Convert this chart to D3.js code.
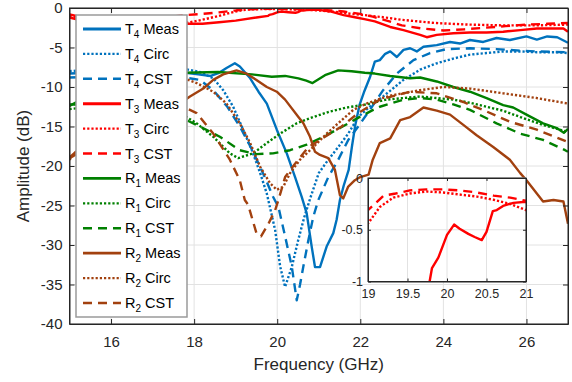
<!DOCTYPE html>
<html lang="en">
<head>
<meta charset="UTF-8">
<title>Amplitude vs Frequency</title>
<script src="https://d3js.org/d3.v7.min.js"></script>
<style>
  body { margin: 0; background: #fff; }
  svg { font-family: Arial, "Liberation Sans", sans-serif; }
  .tick text { fill: #262626; }
  .axis path, .axis line { stroke: #262626; }
</style>
</head>
<body>
<svg id="chart" width="572" height="382"></svg>
<script>
// ---- data (frequency GHz, amplitude dB) ----
const t4Meas = [[15,-8.3],[15.5,-8.2],[16,-8.0],[16.5,-8.1],[17,-8.0],[17.5,-8.1],[17.8,-8.2],[18.1,-8.4],[18.4,-8.6],[18.6,-8.2],[18.78,-7.6],[18.98,-7.0],[19.1,-7.4],[19.35,-8.9],[19.55,-10.6],[19.75,-12.1],[19.99,-15.4],[20.23,-18.4],[20.43,-21.4],[20.59,-23.9],[20.71,-26],[20.83,-30.2],[20.91,-32.8],[21.03,-32.8],[21.11,-31.5],[21.19,-30.2],[21.35,-28.5],[21.43,-26.8],[21.51,-24.3],[21.6,-22.5],[21.72,-20.5],[21.8,-17.5],[21.88,-14.8],[21.98,-12.3],[22.1,-10.5],[22.23,-8.8],[22.35,-6.8],[22.47,-6.6],[22.6,-5.8],[22.72,-5.5],[22.88,-6.2],[23.04,-5.3],[23.2,-5.1],[23.36,-5.5],[23.52,-4.9],[23.84,-4.7],[24.16,-4.3],[24.4,-4.5],[24.64,-4.05],[24.96,-4.3],[25.28,-3.8],[25.6,-4.05],[26.0,-3.6],[26.25,-4.0],[26.5,-3.6],[26.74,-3.7],[27,-4.4]];
const t4Circ = [[15,-8.0],[15.5,-7.8],[16,-7.7],[16.5,-7.6],[17,-7.5],[17.66,-7.6],[18.14,-8.1],[18.46,-8.9],[18.7,-10.4],[18.94,-12.5],[19.18,-15.4],[19.39,-18],[19.59,-20.9],[19.75,-23.5],[19.95,-28.1],[20.07,-32.7],[20.19,-35.3],[20.35,-32.8],[20.5,-29.5],[20.65,-26.5],[20.8,-24.0],[21.0,-20.9],[21.23,-19.2],[21.47,-17.6],[21.71,-15.9],[21.95,-13.8],[22.2,-12.6],[22.55,-11.2],[23.04,-9.1],[23.44,-7.8],[23.84,-7.0],[24.24,-6.4],[24.64,-5.9],[25.04,-5.7],[25.44,-5.5],[25.85,-5.5],[26.25,-5.6],[26.73,-5.6],[27,-5.7]];
const t4Cst = [[15,-8.8],[15.5,-8.7],[16,-8.6],[16.5,-8.5],[17,-8.5],[17.66,-8.7],[18.14,-9.1],[18.46,-10.4],[18.8,-12.5],[19.1,-15],[19.4,-18],[19.7,-21.4],[19.9,-23.9],[20.03,-25.2],[20.19,-28.9],[20.35,-32.7],[20.47,-37],[20.55,-35],[20.63,-32.7],[20.75,-29.4],[20.87,-26.4],[20.99,-24.3],[21.23,-21.4],[21.47,-19.2],[21.71,-16.7],[21.95,-15],[22.23,-12.9],[22.55,-10.4],[22.88,-8.3],[23.28,-6.6],[23.68,-5.7],[24.08,-5.2],[24.64,-5.1],[25.28,-5.2],[25.85,-5.4],[26.25,-5.5],[27,-5.6]];
const t3Meas = [[15,-1.2],[15.3,-1.6],[15.7,-1.9],[16.2,-2.0],[16.8,-2.1],[17.3,-2.0],[17.78,-2.0],[18.2,-2.0],[18.6,-1.8],[19.0,-1.6],[19.5,-1.2],[19.78,-1.0],[19.81,-0.87],[19.89,-0.77],[20.0,-0.55],[20.09,-0.45],[20.16,-0.49],[20.27,-0.54],[20.35,-0.57],[20.44,-0.6],[20.5,-0.52],[20.58,-0.32],[20.63,-0.31],[20.71,-0.27],[20.84,-0.24],[21.0,-0.23],[21.3,-0.45],[21.6,-0.9],[21.9,-1.2],[22.1,-1.4],[22.35,-1.7],[22.72,-2.4],[23.04,-2.8],[23.44,-3.4],[23.6,-3.7],[23.84,-3.4],[24.24,-3.2],[24.64,-3.1],[25.04,-3.1],[25.44,-3.0],[25.85,-2.8],[26.25,-2.6],[26.65,-2.6],[26.89,-2.6],[27,-3.0]];
const t3Circ = [[15,-1.0],[15.5,-1.5],[16,-1.9],[16.5,-2.2],[17,-2.3],[17.4,-2.1],[17.78,-1.9],[18.1,-1.6],[18.6,-1.0],[18.8,-0.7],[19.0,-0.44],[19.15,-0.28],[19.32,-0.19],[19.53,-0.15],[19.74,-0.13],[19.95,-0.14],[20.16,-0.16],[20.38,-0.18],[20.59,-0.21],[20.8,-0.25],[21.0,-0.31],[21.4,-0.5],[21.8,-0.75],[22.2,-0.95],[22.6,-1.2],[23.0,-1.5],[23.4,-1.7],[23.8,-1.9],[24.2,-2.0],[24.6,-2.1],[25.0,-2.15],[25.4,-2.2],[25.8,-2.2],[26.2,-2.2],[26.6,-2.15],[27,-2.1]];
const t3Cst = [[15,-0.8],[15.3,-1.2],[15.8,-1.5],[16.3,-1.6],[16.8,-1.5],[17.3,-1.2],[17.78,-0.9],[18.2,-0.75],[18.6,-0.55],[18.8,-0.42],[19.0,-0.31],[19.2,-0.17],[19.35,-0.15],[19.53,-0.12],[19.74,-0.11],[19.95,-0.11],[20.16,-0.12],[20.38,-0.14],[20.59,-0.17],[20.8,-0.19],[21.0,-0.22],[21.3,-0.3],[21.6,-0.45],[22.0,-0.75],[22.3,-1.1],[22.7,-1.7],[23.0,-2.2],[23.5,-2.6],[24.0,-2.85],[24.5,-2.7],[25.0,-2.5],[25.5,-2.3],[26.0,-2.1],[26.5,-2.0],[27,-1.9]];
const r1Meas = [[15,-12.4],[15.5,-11],[16,-9.8],[16.5,-8.9],[17,-8.5],[17.4,-8.3],[17.78,-8.2],[18.58,-8.1],[19.39,-8.4],[19.87,-8.7],[20.19,-8.6],[20.51,-8.9],[20.7,-9.2],[20.85,-9.5],[21.15,-8.5],[21.47,-7.9],[21.79,-8.0],[22.11,-8.2],[22.35,-8.3],[22.72,-8.6],[23.2,-8.9],[23.44,-8.8],[23.84,-9.3],[24.24,-10.0],[24.64,-10.6],[25.04,-11.4],[25.44,-12.3],[25.68,-12.6],[26.0,-13.5],[26.4,-14.6],[26.73,-15.2],[26.9,-15.8],[27,-15.3]];
const r1Circ = [[15,-12.8],[15.5,-12.5],[16,-12.4],[16.5,-12.5],[17,-12.7],[17.66,-13.3],[18.06,-14.6],[18.46,-16.3],[18.86,-18.4],[19.06,-19.0],[19.42,-18.4],[19.75,-17.1],[20.07,-15.9],[20.47,-14.6],[20.87,-13.8],[21.27,-13.1],[21.67,-12.6],[22.15,-12.2],[22.63,-11.6],[23.04,-11.4],[23.44,-11.2],[23.84,-11.4],[24.24,-11.6],[24.64,-12.0],[25.04,-12.5],[25.44,-13.0],[25.85,-13.8],[26.4,-14.8],[27,-15.7]];
const r1Cst = [[15,-12.2],[15.5,-12.3],[16,-12.5],[16.5,-12.8],[17,-13.2],[17.66,-13.8],[18.14,-15.0],[18.62,-16.3],[19.1,-18.0],[19.5,-18.5],[19.9,-18.4],[20.31,-18.0],[20.71,-17.3],[21.11,-16.3],[21.51,-15.2],[21.91,-14.0],[22.31,-12.9],[22.47,-12.5],[23.04,-11.6],[23.44,-11.4],[23.84,-11.6],[24.24,-12.2],[24.64,-12.9],[25.28,-14.6],[25.85,-15.9],[26.4,-16.7],[26.93,-18.0],[27,-18.2]];
const r2Meas = [[15,-18.9],[15.2,-18.0],[15.6,-16.5],[16,-15.5],[16.5,-14.5],[17,-13.5],[17.4,-12.8],[17.66,-12.1],[17.9,-11.2],[18.22,-10.2],[18.46,-9.1],[18.7,-8.4],[19.02,-7.9],[19.26,-8.3],[19.5,-9.1],[19.75,-10.0],[19.99,-10.6],[20.19,-11.6],[20.51,-13.8],[20.63,-14.6],[20.79,-16.3],[20.91,-18.2],[21.03,-18.6],[21.23,-19.0],[21.39,-20.5],[21.51,-23.7],[21.59,-24.1],[21.71,-22.6],[21.87,-21.8],[22.0,-21.4],[22.2,-21.1],[22.3,-19.2],[22.47,-17.1],[22.72,-16.5],[22.96,-14.2],[23.2,-13.8],[23.52,-12.6],[23.84,-13.0],[24.16,-13.5],[24.48,-14.8],[24.8,-16.1],[25.2,-17.6],[25.6,-19.2],[25.85,-20.9],[26.0,-21.8],[26.4,-24.5],[26.65,-24.3],[26.89,-24.5],[27,-27.3]];
const r2Circ = [[15,-19.2],[15.5,-16],[16,-13],[16.5,-10.8],[17,-9.3],[17.4,-8.8],[17.66,-8.7],[18.06,-9.5],[18.46,-10.6],[18.78,-12.1],[19.1,-14.6],[19.35,-17.1],[19.59,-20.1],[19.83,-22.2],[19.99,-23.0],[20.15,-22.6],[20.31,-20.9],[20.55,-19.2],[20.87,-17.6],[21.19,-15.9],[21.51,-14.4],[21.83,-12.9],[22.15,-12.1],[22.47,-11.5],[22.72,-11.1],[23.44,-10.4],[24,-10.0],[24.64,-10.2],[25.44,-10.8],[26.25,-11.4],[27,-12.1]];
const r2Cst = [[15,-19.0],[15.5,-17.5],[16,-15.5],[16.5,-13.8],[17,-12.7],[17.4,-12.2],[17.66,-12.3],[18.06,-13.3],[18.46,-15.9],[18.86,-19.2],[19.1,-21.8],[19.22,-24.3],[19.3,-24.9],[19.5,-28.5],[19.61,-28.9],[19.79,-27.3],[19.95,-25.6],[20.03,-24.3],[20.19,-21.4],[20.43,-19.7],[20.75,-17.6],[21.15,-16.3],[21.55,-15.0],[21.95,-13.3],[22.47,-11.6],[23.2,-10.6],[23.84,-10.8],[24.48,-11.9],[25.04,-13.1],[25.6,-14.4],[26.25,-15.4],[26.97,-16.9]];

const xTicks = [16, 18, 20, 22, 24, 26];
const yTicks = [-40, -35, -30, -25, -20, -15, -10, -5, 0];
const insetXTicks = [19, 19.5, 20, 20.5, 21];
const insetYTicks = [-1, -0.5, 0];

const colors = { T4: "#0072bd", T3: "#ff0000", R1: "#008000", R2: "#a2410f" };
const dashes = { Meas: null, Circ: "2.2,2", CST: "9,6" };

const series = [
  { letter: "T", sub: "4", kind: "Meas", color: colors.T4, data: t4Meas },
  { letter: "T", sub: "4", kind: "Circ", color: colors.T4, data: t4Circ },
  { letter: "T", sub: "4", kind: "CST",  color: colors.T4, data: t4Cst },
  { letter: "T", sub: "3", kind: "Meas", color: colors.T3, data: t3Meas },
  { letter: "T", sub: "3", kind: "Circ", color: colors.T3, data: t3Circ },
  { letter: "T", sub: "3", kind: "CST",  color: colors.T3, data: t3Cst },
  { letter: "R", sub: "1", kind: "Meas", color: colors.R1, data: r1Meas },
  { letter: "R", sub: "1", kind: "Circ", color: colors.R1, data: r1Circ },
  { letter: "R", sub: "1", kind: "CST",  color: colors.R1, data: r1Cst },
  { letter: "R", sub: "2", kind: "Meas", color: colors.R2, data: r2Meas },
  { letter: "R", sub: "2", kind: "Circ", color: colors.R2, data: r2Circ },
  { letter: "R", sub: "2", kind: "CST",  color: colors.R2, data: r2Cst }
];

// ---- main axes ----
const svg = d3.select("#chart");
const plot = { left: 69.5, right: 568, top: 8, bottom: 324 };
const x = d3.scaleLinear().domain([15, 27]).range([plot.left, plot.right]);
const y = d3.scaleLinear().domain([-40, 0]).range([plot.bottom, plot.top]);
const fmt = d => String(d);

svg.append("defs").append("clipPath").attr("id", "clip")
  .append("rect")
  .attr("x", plot.left).attr("y", plot.top)
  .attr("width", plot.right - plot.left).attr("height", plot.bottom - plot.top);

// grid
const grid = svg.append("g").attr("stroke", "#e2e2e2").attr("stroke-width", 1);
grid.selectAll(".gx").data(xTicks).enter().append("line")
  .attr("x1", d => x(d)).attr("x2", d => x(d))
  .attr("y1", plot.top).attr("y2", plot.bottom);
grid.selectAll(".gy").data(yTicks).enter().append("line")
  .attr("x1", plot.left).attr("x2", plot.right)
  .attr("y1", d => y(d)).attr("y2", d => y(d));

// curves
const line = d3.line().x(d => x(d[0])).y(d => y(d[1]));
const curves = svg.append("g").attr("clip-path", "url(#clip)");
series.forEach(s => {
  curves.append("path")
    .datum(s.data)
    .attr("d", line)
    .attr("fill", "none")
    .attr("stroke", s.color)
    .attr("stroke-width", 2.4)
    .attr("stroke-linejoin", "round")
    .attr("stroke-dasharray", dashes[s.kind]);
});

// axes (ticks inward, box)
svg.append("g").attr("class", "axis")
  .attr("transform", `translate(0,${plot.bottom})`)
  .call(d3.axisBottom(x).tickValues(xTicks).tickFormat(fmt).tickSizeInner(-5).tickSizeOuter(0).tickPadding(12))
  .call(g => g.selectAll("text").attr("font-size", 15));
svg.append("g").attr("class", "axis")
  .attr("transform", `translate(${plot.left},0)`)
  .call(d3.axisLeft(y).tickValues(yTicks).tickFormat(fmt).tickSizeInner(-5).tickSizeOuter(0).tickPadding(7))
  .call(g => g.selectAll("text").attr("font-size", 15));
svg.append("g").attr("class", "axis")
  .attr("transform", `translate(0,${plot.top})`)
  .call(d3.axisTop(x).tickValues(xTicks).tickFormat("").tickSizeInner(-5).tickSizeOuter(0));
svg.append("g").attr("class", "axis")
  .attr("transform", `translate(${plot.right},0)`)
  .call(d3.axisRight(y).tickValues(yTicks).tickFormat("").tickSizeInner(-5).tickSizeOuter(0));

// axis labels
svg.append("text")
  .attr("x", (plot.left + plot.right) / 2).attr("y", 370)
  .attr("text-anchor", "middle").attr("font-size", 17).attr("fill", "#262626")
  .text("Frequency (GHz)");
svg.append("text")
  .attr("transform", `translate(29,${(plot.top + plot.bottom) / 2}) rotate(-90)`)
  .attr("text-anchor", "middle").attr("font-size", 17).attr("fill", "#262626")
  .text("Amplitude (dB)");

// ---- legend ----
const legend = svg.append("g");
legend.append("rect")
  .attr("x", 76).attr("y", 15).attr("width", 111).attr("height", 302)
  .attr("fill", "#fff").attr("stroke", "#9a9a9a").attr("stroke-width", 1.5);
const ly = d3.scalePoint().domain(d3.range(series.length)).range([29, 303]);
series.forEach((s, i) => {
  const yy = ly(i);
  legend.append("line")
    .attr("x1", 83).attr("x2", 121).attr("y1", yy).attr("y2", yy)
    .attr("stroke", s.color).attr("stroke-width", s.kind === "Meas" ? 2.8 : 2.4)
    .attr("stroke-dasharray", dashes[s.kind]);
  const t = legend.append("text")
    .attr("x", 125).attr("y", yy + 5).attr("font-size", 14.5).attr("fill", "#000");
  t.append("tspan").text(s.letter);
  t.append("tspan").attr("font-size", 10).attr("dy", 4).text(s.sub);
  t.append("tspan").attr("dy", -4).text("\u00a0" + s.kind);
});

// ---- inset ----
const ins = { left: 368, right: 526, top: 178, bottom: 281.5 };
const x2 = d3.scaleLinear().domain([19, 21]).range([ins.left, ins.right]);
const y2 = d3.scaleLinear().domain([-1, 0]).range([ins.bottom, ins.top]);
const inset = svg.append("g");
inset.append("rect")
  .attr("x", ins.left).attr("y", ins.top)
  .attr("width", ins.right - ins.left).attr("height", ins.bottom - ins.top)
  .attr("fill", "#fff");
svg.select("defs").append("clipPath").attr("id", "clip2")
  .append("rect")
  .attr("x", ins.left).attr("y", ins.top)
  .attr("width", ins.right - ins.left).attr("height", ins.bottom - ins.top);
const g2 = inset.append("g").attr("stroke", "#e2e2e2").attr("stroke-width", 1);
g2.selectAll(".ix").data(insetXTicks).enter().append("line")
  .attr("x1", d => x2(d)).attr("x2", d => x2(d))
  .attr("y1", ins.top).attr("y2", ins.bottom);
g2.selectAll(".iy").data(insetYTicks).enter().append("line")
  .attr("x1", ins.left).attr("x2", ins.right)
  .attr("y1", d => y2(d)).attr("y2", d => y2(d));

const line2 = d3.line().x(d => x2(d[0])).y(d => y2(d[1]));
const insetCurves = inset.append("g").attr("clip-path", "url(#clip2)");
series.filter(s => s.sub === "3").forEach(s => {
  insetCurves.append("path")
    .datum(s.data)
    .attr("d", line2)
    .attr("fill", "none")
    .attr("stroke", s.color)
    .attr("stroke-width", 2.4)
    .attr("stroke-linejoin", "round")
    .attr("stroke-dasharray", dashes[s.kind]);
});

inset.append("g").attr("class", "axis")
  .attr("transform", `translate(0,${ins.bottom})`)
  .call(d3.axisBottom(x2).tickValues(insetXTicks).tickFormat(fmt).tickSizeInner(-3).tickSizeOuter(0).tickPadding(8))
  .call(g => g.selectAll("text").attr("font-size", 12.5));
inset.append("g").attr("class", "axis")
  .attr("transform", `translate(${ins.left},0)`)
  .call(d3.axisLeft(y2).tickValues(insetYTicks).tickFormat(fmt).tickSizeInner(-3).tickSizeOuter(0).tickPadding(5))
  .call(g => g.selectAll("text").attr("font-size", 12.5));
inset.append("g").attr("class", "axis")
  .attr("transform", `translate(0,${ins.top})`)
  .call(d3.axisTop(x2).tickValues(insetXTicks).tickFormat("").tickSizeInner(-3).tickSizeOuter(0));
inset.append("g").attr("class", "axis")
  .attr("transform", `translate(${ins.right},0)`)
  .call(d3.axisRight(y2).tickValues(insetYTicks).tickFormat("").tickSizeInner(-3).tickSizeOuter(0));
inset.append("rect")
  .attr("x", ins.left).attr("y", ins.top)
  .attr("width", ins.right - ins.left).attr("height", ins.bottom - ins.top)
  .attr("fill", "none").attr("stroke", "#262626").attr("stroke-width", 1);

// main box on top
svg.append("rect")
  .attr("x", plot.left).attr("y", plot.top)
  .attr("width", plot.right - plot.left).attr("height", plot.bottom - plot.top)
  .attr("fill", "none").attr("stroke", "#262626").attr("stroke-width", 1);
</script>
</body>
</html>
